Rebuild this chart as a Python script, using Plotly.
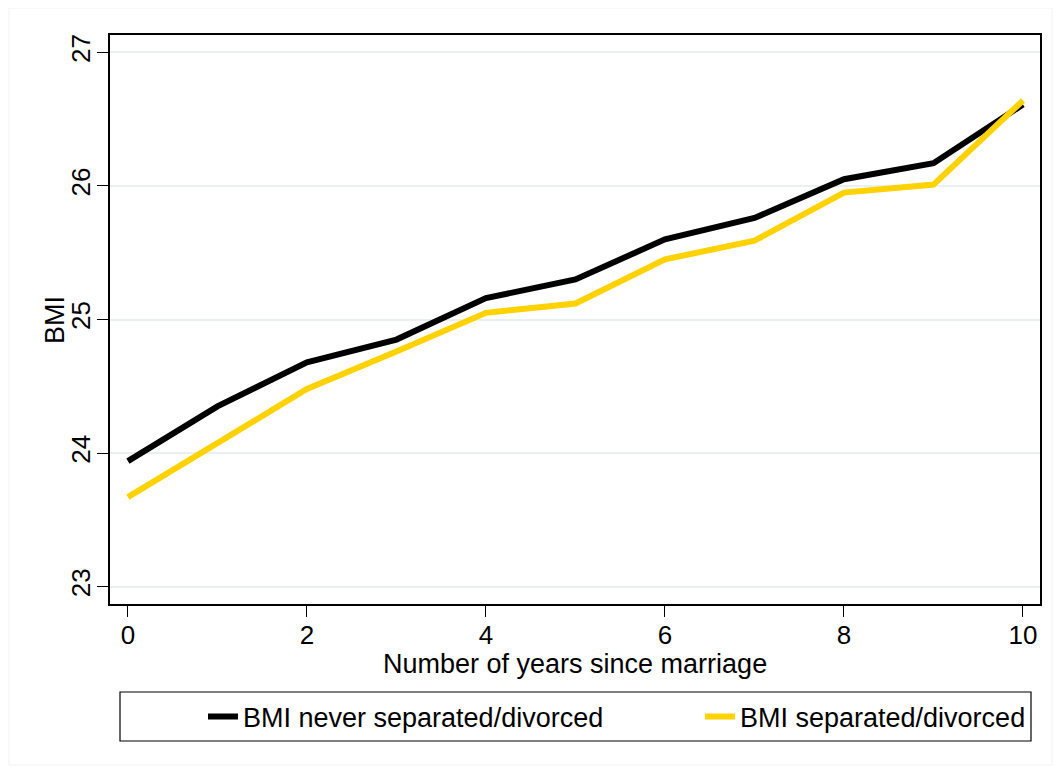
import plotly.graph_objects as go

years = [0, 1, 2, 3, 4, 5, 6, 7, 8, 9, 10]
bmi_never = [23.94, 24.35, 24.68, 24.85, 25.16, 25.30, 25.60, 25.76, 26.05, 26.17, 26.61]
bmi_sep = [23.67, 24.07, 24.48, 24.76, 25.05, 25.12, 25.45, 25.59, 25.95, 26.01, 26.64]
x_ticks = [0, 2, 4, 6, 8, 10]
y_ticks = [23, 24, 25, 26, 27]

FONT = "Liberation Sans, Arial, Helvetica, sans-serif"
FS = 27
TFS = 26
OFF = 8  # browser body margin
W, H = 1061 - 2 * OFF, 774 - 2 * OFF
# plot area in page pixels
PL, PR, PT, PB = 110, 1040, 35, 604
L, R, T, B = PL - OFF, W - (PR - OFF), PT - OFF, H - (PB - OFF)
pw, ph = W - L - R, H - T - B


def px(x):
    return (x - OFF - L) / pw


def py(y):
    return (H - B - (y - OFF)) / ph


fig = go.Figure()
fig.add_trace(go.Scatter(x=years, y=bmi_never, mode="lines", name="BMI never separated/divorced",
                         line=dict(color="#000000", width=6), legend="legend"))
fig.add_trace(go.Scatter(x=years, y=bmi_sep, mode="lines", name="BMI separated/divorced",
                         line=dict(color="#ffd200", width=6), legend="legend2"))

leg_common = dict(orientation="h", xanchor="left", yanchor="middle", y=py(717),
                  bgcolor="rgba(0,0,0,0)", borderwidth=0,
                  font=dict(family=FONT, size=FS, color="black"))

fig.update_layout(
    width=W, height=H,
    margin=dict(l=L, r=R, t=T, b=B, autoexpand=False),
    paper_bgcolor="white", plot_bgcolor="white",
    font=dict(family=FONT, size=FS, color="black"),
    showlegend=True,
    legend=dict(x=px(203), **leg_common),
    legend2=dict(x=px(700), **leg_common),
    xaxis=dict(range=[-0.2, 10.19], tickvals=x_ticks, ticks="outside", ticklen=11, tickwidth=1.2,
               tickcolor="black", showline=True, linecolor="black", linewidth=1.5, mirror=True,
               showgrid=False, zeroline=False, tickfont=dict(size=TFS), ticklabelstandoff=-4),
    yaxis=dict(range=[22.87, 27.13], tickvals=y_ticks, ticks="outside", ticklen=11, tickwidth=1.2,
               tickcolor="black", showline=True, linecolor="black", linewidth=1.5, mirror=True,
               showgrid=True, gridcolor="#e9f0f1", gridwidth=2, zeroline=False,
               tickangle=-90, tickfont=dict(size=TFS), ticklabelstandoff=-3),
    annotations=[
        dict(text="Number of years since marriage", x=0.5 * (px(PL) + px(PR)), y=py(664),
             xref="paper", yref="paper", showarrow=False, xanchor="center", yanchor="middle",
             font=dict(size=FS)),
        dict(text="BMI", x=px(55), y=py(320), xref="paper", yref="paper", showarrow=False,
             textangle=-90, xanchor="center", yanchor="middle", font=dict(size=FS)),
    ],
    shapes=[
        dict(type="rect", xref="paper", yref="paper", x0=px(120), x1=px(1031), y0=py(741), y1=py(692),
             line=dict(color="black", width=1.2), fillcolor="rgba(0,0,0,0)", layer="below"),
        dict(type="rect", xref="paper", yref="paper", x0=px(9), x1=px(1052), y0=py(765), y1=py(8),
             line=dict(color="#f2f2f2", width=1), fillcolor="rgba(0,0,0,0)", layer="below"),
    ],
)

fig.write_html("out.html")
